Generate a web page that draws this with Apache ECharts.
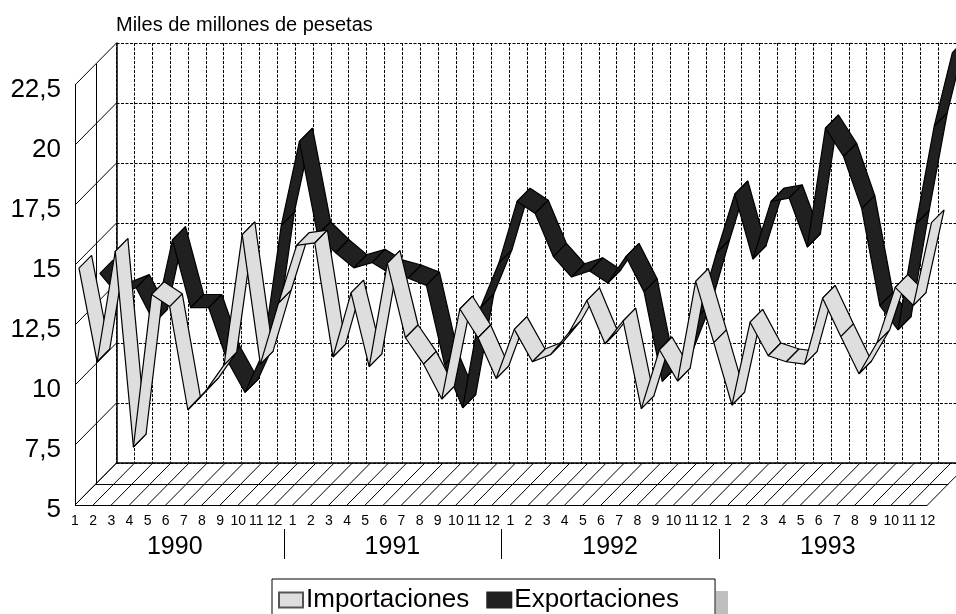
<!DOCTYPE html>
<html>
<head>
<meta charset="utf-8">
<style>
  html, body { margin: 0; padding: 0; background: #fff; }
  #chart { width: 956px; height: 614px; }
</style>
<script src="https://cdn.jsdelivr.net/npm/echarts@6/dist/echarts.min.js"></script>
</head>
<body>
<div id="chart"></div>
<script>
  const monthLabels = [
    '1','2','3','4','5','6','7','8','9','10','11','12',
    '1','2','3','4','5','6','7','8','9','10','11','12',
    '1','2','3','4','5','6','7','8','9','10','11','12',
    '1','2','3','4','5','6','7','8','9','10','11','12'
  ];
  const years = ['1990', '1991', '1992', '1993'];
  const yearCenters = [5.5, 17.5, 29.5, 41.5];
  const yearBreaks = [11.5, 23.5, 35.5];
  const yTicks = [5, 7.5, 10, 12.5, 15, 17.5, 20, 22.5];
  const importaciones = [
    14.7, 10.8, 15.4, 7.25, 13.6, 13.1, 8.8, 9.6, 10.67, 16.1, 10.7, 13.25,
    15.65, 15.75, 11.0, 13.67, 10.6, 14.9, 11.8, 10.7, 9.25, 13.0, 11.8, 10.1,
    12.15, 10.8, 11.1, 12.0, 13.35, 11.55, 12.5, 8.85, 11.3, 10.0, 14.15, 11.6,
    9.0, 12.45, 11.05, 10.8, 10.7, 13.45, 11.85, 10.3, 11.6, 13.9, 13.15, 16.6
  ];
  const exportaciones = [
    13.6, 12.7, 13.0, 11.55, 15.0, 12.17, 12.17, 10.0, 8.64, 10.3, 15.6, 19.1,
    15.2, 14.46, 13.83, 14.05, 13.6, 13.4, 13.1, 9.8, 8.0, 12.2, 14.04, 16.6,
    16.1, 14.3, 13.45, 13.7, 13.2, 14.3, 12.83, 9.1, 9.9, 11.83, 14.46, 16.9,
    14.2, 16.6, 16.74, 14.7, 19.65, 18.47, 16.3, 12.26, 11.25, 15.67, 19.75, 22.8
  ];

  const FONT = '"Liberation Sans", Arial, sans-serif';
  // pseudo 3D depth of the box, in pixels
  const DEPTH_X = 41.5;
  const DEPTH_Y = 42;
  const lastIndex = monthLabels.length - 1;

  const chart = echarts.init(document.getElementById('chart'), null, { renderer: 'canvas' });

  function shift (pt, depth) {
    return [pt[0] + depth * DEPTH_X, pt[1] - depth * DEPTH_Y];
  }

  // a ribbon: one quad per month-to-month step, painted left to right
  function ribbonSeries (name, values, fill, legendBorder, depthFront, depthBack) {
    return {
      name: name,
      type: 'custom',
      coordinateSystem: 'cartesian2d',
      clip: false,
      z: 5,
      itemStyle: { color: fill, borderColor: legendBorder, borderWidth: 1 },
      data: values.slice(0, -1).map((v, i) => [i, v, i + 1, values[i + 1]]),
      renderItem (params, api) {
        const a = api.coord([api.value(0), api.value(1)]);
        const b = api.coord([api.value(2), api.value(3)]);
        return {
          type: 'polygon',
          z2: params.dataIndex,
          shape: {
            points: [shift(a, depthFront), shift(b, depthFront), shift(b, depthBack), shift(a, depthBack)]
          },
          style: { fill: fill, stroke: '#000', lineWidth: 1.2, lineJoin: 'bevel' }
        };
      }
    };
  }

  function line (p, q, width) {
    const shape = { x1: p[0], y1: p[1], x2: q[0], y2: q[1] };
    // keep straight lines on the pixel grid so they stay black
    if (p[0] === q[0]) {
      shape.x1 = shape.x2 = Math.round(p[0]) + 0.5;
    }
    if (p[1] === q[1]) {
      shape.y1 = shape.y2 = Math.round(p[1]) + 0.5;
    }
    return {
      type: 'line',
      shape: shape,
      style: { stroke: '#000', lineWidth: width || 1 }
    };
  }

  // floor hatching, floor edges, left wall
  const frameSeries = {
    type: 'custom',
    coordinateSystem: 'cartesian2d',
    clip: false,
    silent: true,
    z: 3,
    data: [0],
    renderItem (params, api) {
      const kids = [];
      monthLabels.forEach((m, i) => {
        const p = api.coord([i, 5]);
        kids.push(line(p, shift(p, 1), 1));
      });
      yTicks.forEach(v => {
        const p = api.coord([0, v]);
        kids.push(line(p, shift(p, 1), 1));
      });
      const o = api.coord([0, 5]);
      const top = api.coord([0, 22.5]);
      const end = api.coord([lastIndex, 5]);
      kids.push(line(o, top, 1));
      kids.push(line(shift(o, 0.5), shift(top, 0.5), 1));
      kids.push(line(o, end, 1));
      kids.push(line(shift(o, 0.5), shift(end, 0.5), 1));
      return { type: 'group', children: kids };
    }
  };

  // year names and the little separators under the months
  const yearSeries = {
    type: 'custom',
    coordinateSystem: 'cartesian2d',
    clip: false,
    silent: true,
    z: 3,
    data: [0],
    renderItem (params, api) {
      const kids = [];
      years.forEach((y, i) => {
        const p = api.coord([yearCenters[i], 5]);
        kids.push({
          type: 'text',
          style: { text: y, x: p[0], y: p[1] + 42, align: 'center', verticalAlign: 'middle', fill: '#000', font: '25px ' + FONT }
        });
      });
      yearBreaks.forEach(b => {
        const p = api.coord([b, 5]);
        kids.push(line([p[0], p[1] + 24], [p[0], p[1] + 54], 1));
      });
      return { type: 'group', children: kids };
    }
  };

  const option = {
    animation: false,
    backgroundColor: '#fff',
    title: {
      text: 'Miles de millones de pesetas',
      left: 116,
      top: 15,
      padding: 0,
      textStyle: { fontFamily: FONT, fontSize: 20, fontWeight: 'normal', color: '#000' }
    },
    legend: {
      left: 272,
      top: 579,
      orient: 'horizontal',
      data: ['Importaciones', 'Exportaciones'],
      icon: 'rect',
      itemWidth: 24,
      itemHeight: 15,
      itemGap: 17,
      selectedMode: false,
      padding: [8, 36, 30, 6],
      borderColor: '#000',
      borderWidth: 1,
      backgroundColor: '#fff',
      textStyle: { fontFamily: FONT, fontSize: 26, color: '#000', padding: [0, 0, 0, -2] }
    },
    graphic: [{
      type: 'rect',
      shape: { x: 716, y: 591, width: 12, height: 30 },
      style: { fill: '#bebebe' },
      silent: true
    }],
    grid: [
      { left: 75, top: 85, width: 852.5, height: 420 },
      // back wall, pushed back by the box depth
      { left: 116.5, top: 43, width: 852.5, height: 420 }
    ],
    xAxis: [{
      gridIndex: 0,
      type: 'value',
      min: 0,
      max: lastIndex,
      interval: 1,
      axisLine: { show: false },
      axisTick: { show: false },
      splitLine: { show: false },
      axisLabel: {
        margin: 9,
        fontFamily: FONT,
        fontSize: 14,
        color: '#000',
        hideOverlap: false,
        showMinLabel: true,
        showMaxLabel: true,
        formatter: v => monthLabels[v]
      }
    }, {
      gridIndex: 1,
      type: 'value',
      min: 0,
      max: lastIndex,
      interval: 1,
      axisLine: { show: true, lineStyle: { color: '#000', width: 1.5 } },
      axisTick: { show: false },
      axisLabel: { show: false },
      splitLine: { show: true, lineStyle: { color: '#000', width: 1, type: [3, 1.5] } }
    }],
    yAxis: [{
      gridIndex: 0,
      type: 'value',
      min: 5,
      max: 22.5,
      interval: 2.5,
      axisLine: { show: false },
      axisTick: { show: false },
      splitLine: { show: false },
      axisLabel: {
        margin: 14,
        fontFamily: FONT,
        fontSize: 26,
        color: '#000',
        verticalAlign: 'top',
        lineHeight: 9,
        formatter: v => String(v).replace('.', ',')
      }
    }, {
      gridIndex: 1,
      type: 'value',
      min: 5,
      max: 22.5,
      interval: 2.5,
      axisLine: { show: true, lineStyle: { color: '#000', width: 1.5 } },
      axisTick: { show: false },
      axisLabel: { show: false },
      splitLine: { show: true, lineStyle: { color: '#000', width: 1, type: [3, 1.5] } }
    }],
    series: [
      frameSeries,
      yearSeries,
      ribbonSeries('Exportaciones', exportaciones, '#202020', '#202020', 0.6, 0.915),
      ribbonSeries('Importaciones', importaciones, '#dedede', '#555', 0.096, 0.4)
    ]
  };

  chart.setOption(option);
</script>
</body>
</html>
